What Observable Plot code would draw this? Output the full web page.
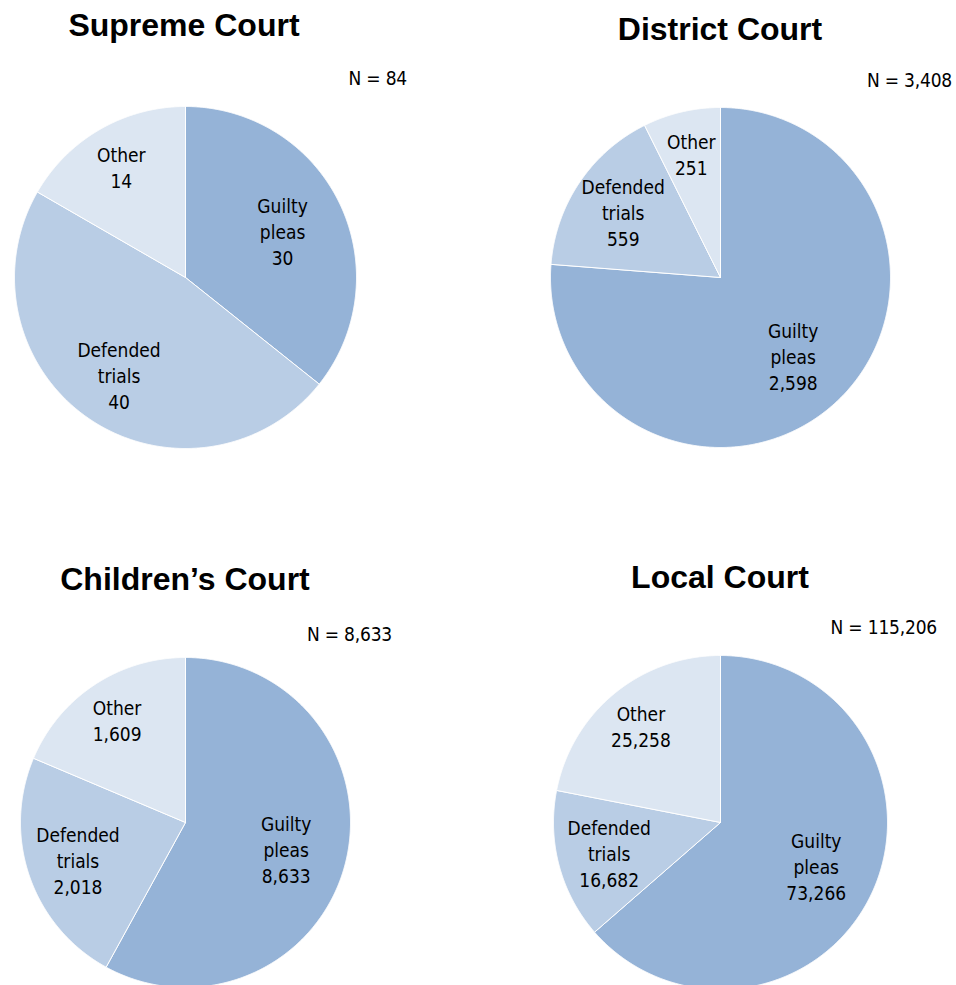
<!DOCTYPE html>
<html>
<head>
<meta charset="utf-8">
<script src="https://cdn.jsdelivr.net/npm/d3@7"></script>
<script src="https://cdn.jsdelivr.net/npm/@observablehq/plot@0.6"></script>
<style>
  html, body { margin: 0; padding: 0; background: #fff; }
  body { width: 956px; height: 985px; position: relative; overflow: hidden;
         font-family: "DejaVu Sans Condensed", "DejaVu Sans", sans-serif; }
  .title { position: absolute; font-family: "Liberation Sans", Arial, sans-serif; font-weight: bold;
           font-size: 32px; line-height: 32px; white-space: nowrap; transform: translateX(-50%); color: #000; }
  .nlab { position: absolute; font-size: 19px; line-height: 19px; white-space: nowrap; color: #000; letter-spacing: -0.2px; }
  .pie { position: absolute; }
  .pie svg { overflow: visible; }
</style>
</head>
<body>
<script>
// ---- data ----
const courts = ["Supreme Court", "District Court", "Children’s Court", "Local Court"];
const nLabels = ["N = 84", "N = 3,408", "N = 8,633", "N = 115,206"];
const categories = ["Guilty pleas", "Defended trials", "Other"];
const categoryText = ["Guilty\npleas", "Defended\ntrials", "Other"];
const sliceColors = ["#95b3d7", "#b9cde5", "#dce6f2"];

const supremeValues = [30, 40, 14];
const districtValues = [2598, 559, 251];
const childrensValues = [5006, 2018, 1609];   // slice sizes as drawn
const localValues = [73266, 16682, 25258];

const supremeLabels = ["30", "40", "14"];
const districtLabels = ["2,598", "559", "251"];
const childrensLabels = ["8,633", "2,018", "1,609"]; // as printed in the source
const localLabels = ["73,266", "16,682", "25,258"];

// ---- layout ----
const layout = [
  {cx: 185, cy: 277, r: 171, tx: 184, tTop: 9,   nRight: 407, nTop: 69},
  {cx: 720, cy: 277, r: 170, tx: 720, tTop: 13,  nRight: 952, nTop: 71},
  {cx: 185, cy: 822, r: 165, tx: 185, tTop: 563, nRight: 392, nTop: 625},
  {cx: 720, cy: 822, r: 167, tx: 720, tTop: 561, nRight: 937, nTop: 618}
];
const valueSets = [supremeValues, districtValues, childrensValues, localValues];
const labelSets = [supremeLabels, districtLabels, childrensLabels, localLabels];
const labelRadius = [0.63, 0.69, 0.75]; // by category

function makePie(values, labels, R) {
  const total = d3.sum(values);
  let acc = 0;
  const slices = values.map((v, i) => {
    const a0 = acc / total * 2 * Math.PI;
    acc += v;
    const a1 = acc / total * 2 * Math.PI;
    return {i, cat: categories[i], v, a0, a1};
  });
  const marks = slices.map(s => {
    const n = Math.max(2, Math.ceil((s.a1 - s.a0) / 0.004));
    const pts = [{x: 0, y: 0}];
    for (let k = 0; k <= n; k++) {
      const a = s.a0 + (s.a1 - s.a0) * k / n;
      pts.push({x: Math.sin(a), y: Math.cos(a)});
    }
    pts.push({x: 0, y: 0});
    return Plot.line(pts, {x: "x", y: "y", fill: sliceColors[s.i], stroke: "#fff",
      strokeWidth: 1, strokeLinejoin: "miter", curve: "linear"});
  });
  const textData = slices.map(s => {
    const m = (s.a0 + s.a1) / 2;
    const lr = labelRadius[s.i];
    return {x: lr * Math.sin(m), y: lr * Math.cos(m),
            text: categoryText[s.i] + "\n" + labels[s.i]};
  });
  marks.push(Plot.text(textData, {x: "x", y: "y", text: "text", fill: "#000",
    fontSize: 19, lineHeight: 1.37, lineAnchor: "middle", textAnchor: "middle",
    fontFamily: "DejaVu Sans Condensed, DejaVu Sans, sans-serif"}));
  return Plot.plot({
    width: 2 * R, height: 2 * R, margin: 0,
    x: {domain: [-1, 1], axis: null},
    y: {domain: [-1, 1], axis: null},
    style: {background: "transparent", overflow: "visible"},
    marks
  });
}

layout.forEach((L, i) => {
  const t = document.createElement("div");
  t.className = "title";
  t.textContent = courts[i];
  t.style.left = L.tx + "px";
  t.style.top = L.tTop + "px";
  document.body.appendChild(t);

  const n = document.createElement("div");
  n.className = "nlab";
  n.textContent = nLabels[i];
  n.style.right = (956 - L.nRight) + "px";
  n.style.top = L.nTop + "px";
  document.body.appendChild(n);

  const wrap = document.createElement("div");
  wrap.className = "pie";
  wrap.style.left = (L.cx - L.r) + "px";
  wrap.style.top = (L.cy - L.r) + "px";
  wrap.appendChild(makePie(valueSets[i], labelSets[i], L.r));
  document.body.appendChild(wrap);
});
</script>
</body>
</html>
